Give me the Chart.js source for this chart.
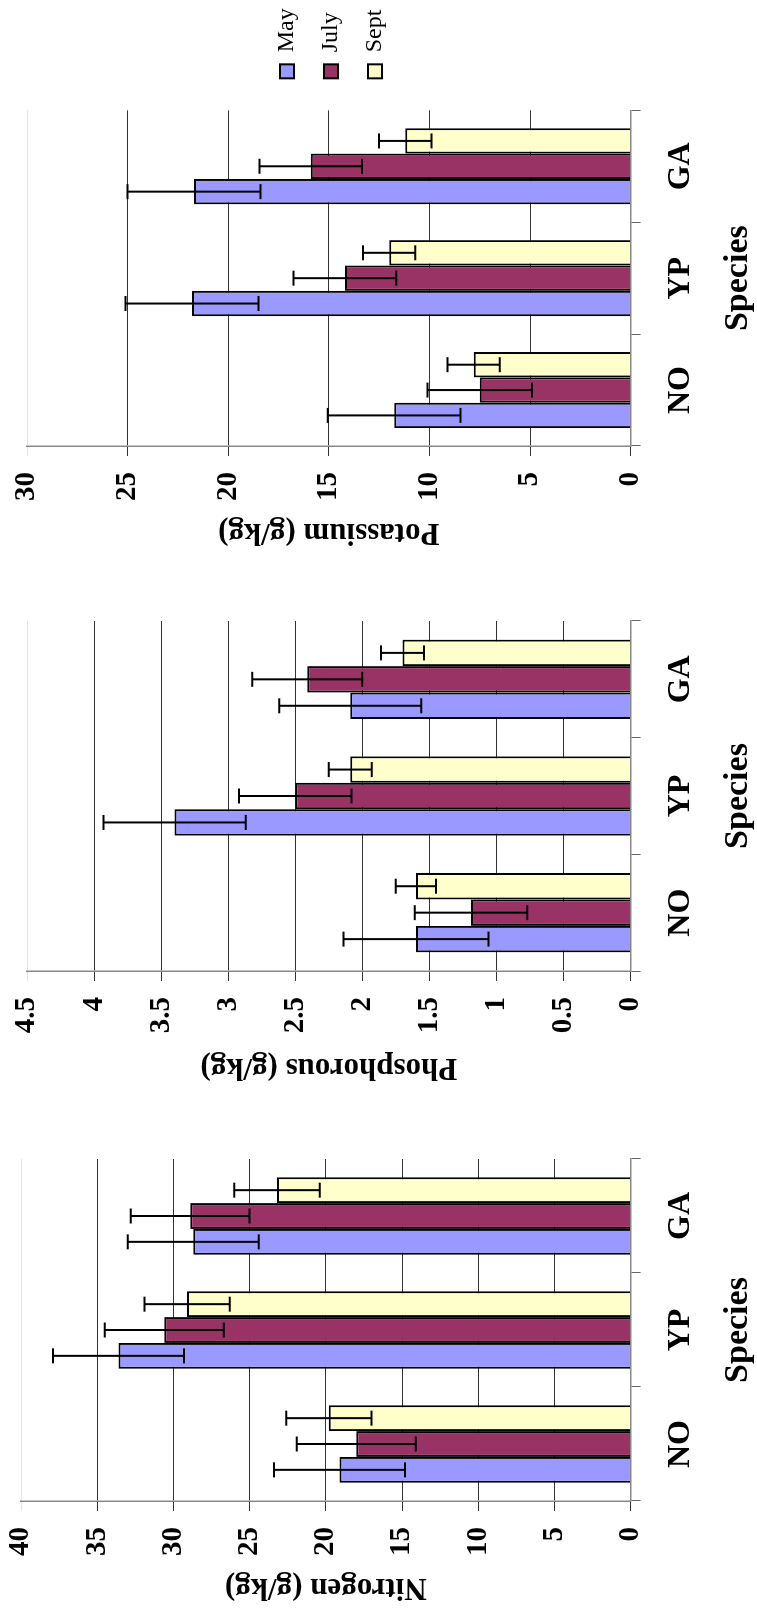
<!DOCTYPE html>
<html>
<head>
<meta charset="utf-8">
<script src="https://cdn.jsdelivr.net/npm/chart.js@4.4.0/dist/chart.umd.min.js"></script>
<style>
  html, body { margin: 0; padding: 0; background: #fff; width: 757px; height: 1610px; overflow: hidden; }
  /* the page is a landscape sheet turned a quarter turn */
  #page { position: absolute; left: 0; top: 0; width: 1610px; height: 757px;
          transform-origin: 0 0; transform: translate(0, 1610px) rotate(-90deg); }
  #page canvas { position: absolute; top: 0; }
</style>
</head>
<body>
<div id="page">
  <canvas id="nitrogen" width="515" height="757" style="left:0px"></canvas>
  <canvas id="phosphorous" width="530" height="757" style="left:520px"></canvas>
  <canvas id="potassium" width="555" height="757" style="left:1055px"></canvas>
</div>
<script>
const species = ["NO", "YP", "GA"];
const months = ["May", "July", "Sept"];
const colors = ["#9999ff", "#993366", "#ffffcc"];

const nitrogenMay = [19.1, 33.6, 28.7];
const nitrogenJuly = [18.0, 30.6, 28.9];
const nitrogenSept = [19.8, 29.1, 23.2];
const nitrogenMayErr = [4.3, 4.3, 4.3];
const nitrogenJulyErr = [3.9, 3.9, 3.9];
const nitrogenSeptErr = [2.8, 2.8, 2.8];

const phosphorousMay = [1.6, 3.4, 2.09];
const phosphorousJuly = [1.19, 2.5, 2.41];
const phosphorousSept = [1.6, 2.09, 1.7];
const phosphorousMayErr = [0.54, 0.53, 0.53];
const phosphorousJulyErr = [0.42, 0.42, 0.41];
const phosphorousSeptErr = [0.15, 0.16, 0.16];

const potassiumMay = [11.75, 21.8, 21.7];
const potassiumJuly = [7.5, 14.2, 15.9];
const potassiumSept = [7.8, 12.0, 11.2];
const potassiumMayErr = [3.3, 3.3, 3.3];
const potassiumJulyErr = [2.6, 2.55, 2.55];
const potassiumSeptErr = [1.3, 1.3, 1.3];

const serif = "'Liberation Serif', 'Times New Roman', serif";

// error bars drawn with the chart's own y scale
const errorBars = {
  id: "errorBars",
  afterDatasetsDraw(chart) {
    const ctx = chart.ctx;
    const y = chart.scales.y;
    ctx.save();
    ctx.strokeStyle = "#000";
    ctx.lineWidth = 2;
    chart.data.datasets.forEach((ds, i) => {
      chart.getDatasetMeta(i).data.forEach((bar, j) => {
        const hi = y.getPixelForValue(ds.data[j] + ds.errors[j]);
        const lo = y.getPixelForValue(ds.data[j] - ds.errors[j]);
        ctx.beginPath();
        ctx.moveTo(bar.x, hi); ctx.lineTo(bar.x, lo);
        ctx.moveTo(bar.x - 7.5, hi); ctx.lineTo(bar.x + 7.5, hi);
        ctx.moveTo(bar.x - 7.5, lo); ctx.lineTo(bar.x + 7.5, lo);
        ctx.stroke();
      });
    });
    ctx.restore();
  }
};

function makeChart(id, title, max, step, series, errors, axisWidth, padding, withLegend) {
  const datasets = series.map((vals, i) => ({
    label: months[i],
    data: vals,
    errors: errors[i],
    backgroundColor: colors[i],
    borderColor: "#000",
    borderWidth: 2,
    barPercentage: 1,
    categoryPercentage: 0.68
  }));

  const scales = {
    x: {
      grid: { drawOnChartArea: false, offset: true, tickLength: 10, color: "#666" },
      border: { color: "#888", width: 1.5 },
      ticks: { color: "#000", padding: 21, maxRotation: 0,
               font: { family: serif, weight: "bold", size: 32 } },
      title: { display: true, text: "Species", color: "#000",
               padding: { top: 0, bottom: 0 },
               font: { family: serif, weight: "bold", size: 34, lineHeight: 1 } }
    },
    y: {
      min: 0,
      max: max,
      afterFit(s) {
        s.width = axisWidth;
        s.paddingTop = 0;
        s.paddingBottom = 0;
      },
      grid: { tickLength: 10, lineWidth: 1,
              color: (c) => (c.tick && c.tick.value === max ? "#e4e4e4" : "#333") },
      border: { color: "#888", width: 1.5 },
      ticks: { stepSize: step, color: "#000", padding: 16,
               callback: (v) => String(v),
               font: { family: serif, weight: "bold", size: 29 } },
      title: { display: true, text: title, color: "#000",
               padding: { top: 4, bottom: 0 },
               font: { family: serif, weight: "bold", size: 31 } }
    }
  };
  if (withLegend) {
    // small blank strip between plot and legend
    scales.gap = {
      type: "linear", position: "right", display: true,
      grid: { display: false }, ticks: { display: false }, border: { display: false },
      afterFit(s) { s.width = 12; }
    };
  }

  return new Chart(document.getElementById(id), {
    type: "bar",
    data: { labels: species, datasets: datasets },
    options: {
      responsive: false,
      animation: false,
      layout: { padding: padding },
      scales: scales,
      plugins: {
        tooltip: { enabled: false },
        legend: withLegend ? {
          display: true,
          position: "right",
          align: "start",
          title: { display: true, text: "", font: { size: 10 }, padding: { top: 0, bottom: 216 } },
          labels: { boxWidth: 14, boxHeight: 14, padding: 20, color: "#000",
                    font: { family: serif, size: 24 } }
        } : { display: false }
      }
    },
    plugins: [errorBars]
  });
}

makeChart("nitrogen", "Nitrogen (g/kg)", 40, 5,
  [nitrogenMay, nitrogenJuly, nitrogenSept],
  [nitrogenMayErr, nitrogenJulyErr, nitrogenSeptErr],
  109, { left: 0, right: 64, top: 21, bottom: 2 }, false);

makeChart("phosphorous", "Phosphorous (g/kg)", 4.5, 0.5,
  [phosphorousMay, phosphorousJuly, phosphorousSept],
  [phosphorousMayErr, phosphorousJulyErr, phosphorousSeptErr],
  119, { left: 0, right: 61, top: 27, bottom: 2 }, false);

makeChart("potassium", "Potassium (g/kg)", 30, 5,
  [potassiumMay, potassiumJuly, potassiumSept],
  [potassiumMayErr, potassiumJulyErr, potassiumSeptErr],
  109, { left: 0, right: 7, top: 27, bottom: 2 }, true);
</script>
</body>
</html>
